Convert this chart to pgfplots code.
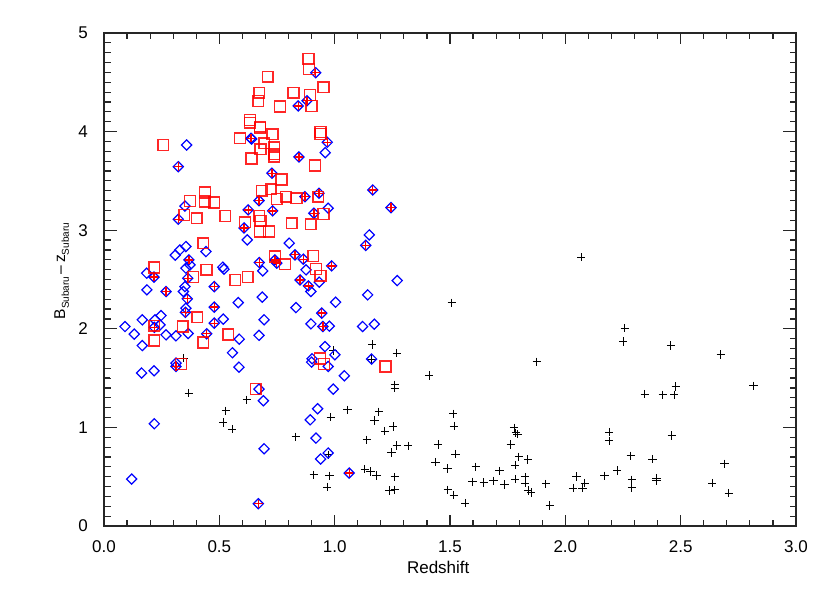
\documentclass[border=0pt]{standalone}
\usepackage{pgfplots}
\pgfplotsset{compat=1.18}
\usepackage{fontspec}
\setmainfont{Liberation Sans}
\newcommand{\sub}[1]{\raisebox{-0.45ex}{\fontsize{5}{6}\selectfont #1}}
\newdimen\tkl
\begin{document}
\fontsize{8.5}{10}\selectfont
\begin{tikzpicture}
\begin{axis}[
  at={(0,0)}, anchor=south west,
  scale only axis, width=346pt, height=246.5pt,
  xmin=0, xmax=3, ymin=0, ymax=5,
  xtick={0,0.5,1,1.5,2,2.5,3}, ytick={0,1,2,3,4,5},
  minor x tick num=4, minor y tick num=9,
  major tick length=5.5pt, minor tick length=2.8pt,
  every major tick/.append style={line width=0.6pt, black!85},
  every minor tick/.append style={line width=0.6pt, black!85},
  axis line style={line width=0.6pt, black!85},
  /pgf/number format/assume math mode=true,
  xticklabel style={/pgf/number format/fixed, /pgf/number format/fixed zerofill, /pgf/number format/precision=1, yshift=-4.5pt},
  yticklabel style={xshift=-5pt},
  xlabel={Redshift},
  ylabel={\fontsize{7.8}{9}\selectfont B\sub{Subaru}\,--\,z\sub{Subaru}},
  xlabel style={at={(axis description cs:0.483,-0.085)}, anchor=center},
  ylabel style={at={(axis description cs:-0.061,0.517)}, anchor=center},
  extra description/.code={
    \foreach \i in {1,...,29}{
      \pgfmathsetmacro\f{\i/30}
      \pgfmathparse{mod(\i,5)==0 ? 4.75 : 2.25}
      \global\tkl=\pgfmathresult pt
      \draw[line width=0.6pt, black!85] (rel axis cs:\f,0) -- ++(0pt,\tkl);
      \draw[line width=0.6pt, black!85] (rel axis cs:\f,1) -- ++(0pt,-\tkl);
    }
    \foreach \j in {1,...,49}{
      \pgfmathsetmacro\f{\j/50}
      \pgfmathparse{mod(\j,10)==0 ? 6.5 : 3.25}
      \global\tkl=\pgfmathresult pt
      \draw[line width=0.6pt, black!85] (rel axis cs:0,\f) -- ++(\tkl,0pt);
      \draw[line width=0.6pt, black!85] (rel axis cs:1,\f) -- ++(-\tkl,0pt);
    }
  },
]
% black plus
\addplot[only marks, mark=+, mark size=2.1pt, black, line width=0.5pt] coordinates {
(0.344,1.703) (0.368,1.348) (0.619,1.280) (0.528,1.169) (0.517,1.050) (0.555,0.983)
(0.832,0.905) (0.994,1.780) (1.055,1.179) (0.983,1.105) (0.972,0.723) (0.910,0.520)
(0.977,0.510) (0.968,0.395) (1.163,1.840) (1.269,1.753) (1.160,1.693) (1.410,1.526)
(1.261,1.432) (1.261,1.399) (1.876,1.665) (1.192,1.158) (1.173,1.070) (1.254,1.009)
(1.218,0.963) (1.139,0.875) (1.269,0.817) (1.319,0.814) (1.247,0.746) (1.131,0.578)
(1.156,0.553) (1.182,0.513) (1.261,0.497) (1.237,0.361) (1.261,0.368) (1.514,1.138)
(1.518,1.013) (1.448,0.827) (1.523,0.730) (1.438,0.649) (1.490,0.584) (1.491,0.368)
(1.517,0.314) (1.566,0.233) (1.612,0.601) (1.598,0.449) (1.647,0.442) (1.688,0.459)
(1.715,0.560) (1.737,0.419) (1.778,0.996) (1.786,0.946) (1.793,0.932) (1.764,0.827)
(1.799,0.702) (1.782,0.618) (1.838,0.675) (1.782,0.476) (1.826,0.497) (1.826,0.436)
(1.839,0.361) (1.852,0.341) (1.916,0.426) (1.933,0.209) (1.508,2.263) (2.069,2.726)
(2.258,2.007) (2.251,1.871) (2.458,1.830) (2.674,1.739) (2.345,1.338) (2.423,1.331)
(2.472,1.331) (2.479,1.415) (2.815,1.422) (2.190,0.953) (2.190,0.865) (2.462,0.918)
(2.284,0.712) (2.378,0.679) (2.690,0.631) (2.049,0.503) (2.034,0.385) (2.075,0.385)
(2.084,0.436) (2.169,0.510) (2.225,0.563) (2.289,0.469) (2.289,0.391) (2.396,0.486)
(2.396,0.462) (2.637,0.436) (2.709,0.334)
};
% blue diamonds
\addplot[only marks, mark=square, mark options={rotate=45}, mark size=1.8pt, blue, line width=0.6pt] coordinates {
(0.351,3.245) (0.322,3.111) (0.625,3.206) (0.607,3.023) (0.621,2.902) (0.672,3.300)
(0.355,2.834) (0.329,2.800) (0.309,2.747) (0.442,2.783) (0.368,2.699) (0.355,2.615)
(0.373,2.648) (0.363,2.513) (0.185,2.564) (0.217,2.524) (0.515,2.625) (0.520,2.605)
(0.186,2.395) (0.269,2.378) (0.351,2.428) (0.344,2.378) (0.478,2.428) (0.361,2.304)
(0.582,2.266) (0.355,2.209) (0.353,2.167) (0.478,2.220) (0.247,2.134) (0.166,2.091)
(0.221,2.091) (0.218,2.015) (0.243,2.040) (0.091,2.023) (0.131,1.946) (0.269,1.939)
(0.312,1.929) (0.365,1.952) (0.478,2.057) (0.517,2.098) (0.445,1.949) (0.166,1.830)
(0.586,1.895) (0.557,1.757) (0.672,1.934) (0.163,1.551) (0.217,1.574) (0.312,1.652)
(0.312,1.618) (0.585,1.611) (0.218,1.037) (0.120,0.476) (0.672,1.388) (0.691,1.270)
(0.694,0.783) (0.669,0.226) (0.900,1.662) (0.958,1.820) (1.001,1.736) (0.972,1.618)
(1.042,1.523) (0.994,1.388) (0.926,1.189) (0.894,1.077) (0.919,0.892) (0.972,0.740)
(0.939,0.679) (1.063,0.537) (0.731,3.196) (0.871,3.340) (0.932,3.375) (0.972,3.223)
(0.910,3.172) (1.165,3.408) (1.244,3.229) (0.803,2.868) (1.150,2.952) (1.135,2.846)
(0.673,2.672) (0.688,2.587) (0.741,2.699) (0.749,2.666) (0.828,2.750) (0.864,2.706)
(0.876,2.598) (0.987,2.638) (0.850,2.496) (0.886,2.435) (0.897,2.378) (0.933,2.473)
(0.686,2.321) (0.832,2.215) (1.004,2.270) (1.271,2.489) (1.143,2.344) (0.694,2.091)
(0.897,2.050) (0.944,2.159) (0.949,2.023) (0.977,2.027) (1.121,2.023) (1.172,2.047)
(1.160,1.693) (0.902,1.696) (0.918,4.597) (0.842,4.260) (0.880,4.313) (0.637,3.932)
(0.640,3.925) (0.968,3.892) (0.959,3.786) (0.845,3.743) (0.728,3.578) (0.358,3.864)
(0.322,3.644)
};
% red squares
\addplot[only marks, mark=square, mark size=2.7pt, red, draw opacity=0.85, line width=0.75pt] coordinates {
(0.257,3.864) (0.373,3.297) (0.438,3.383) (0.438,3.292) (0.478,3.282) (0.348,3.155)
(0.402,3.122) (0.526,3.145) (0.611,3.081) (0.673,3.145) (0.679,3.094) (0.676,2.986)
(0.715,2.986) (0.814,3.071) (0.896,3.061) (0.684,3.401) (0.723,3.415) (0.770,3.515)
(0.749,3.317) (0.789,3.340) (0.835,3.324) (0.929,3.340) (0.951,3.165) (0.430,2.868)
(0.218,2.621) (0.445,2.598) (0.387,2.524) (0.569,2.496) (0.623,2.524) (0.741,2.732)
(0.907,2.739) (0.785,2.655) (0.919,2.605) (0.939,2.537) (0.404,2.118) (0.341,2.023)
(0.218,2.030) (0.218,1.881) (0.430,1.861) (0.539,1.942) (0.334,1.642) (0.658,1.388)
(0.936,1.700) (0.954,1.642) (1.221,1.618)
(0.886,4.736) (0.889,4.634) (0.710,4.557) (0.951,4.449) (0.673,4.394) (0.821,4.394)
(0.893,4.371) (0.669,4.310) (0.763,4.253) (0.900,4.260) (0.633,4.118) (0.633,4.090)
(0.676,4.050) (0.676,4.035) (0.938,3.976) (0.938,3.995) (0.731,3.973) (0.590,3.932)
(0.695,3.882) (0.679,3.821) (0.738,3.841) (0.738,3.746) (0.738,3.770) (0.640,3.728)
(0.915,3.655)
};
% red plus
\addplot[only marks, mark=+, mark size=2.1pt, red, line width=0.65pt] coordinates {
(0.322,3.111) (0.625,3.206) (0.607,3.023) (0.672,3.300) (0.368,2.699) (0.363,2.513)
(0.217,2.524) (0.269,2.378) (0.478,2.428) (0.361,2.304) (0.353,2.167) (0.478,2.220)
(0.218,2.015) (0.478,2.057) (0.445,1.949) (0.312,1.618) (0.669,0.226) (1.063,0.537)
(0.731,3.196) (0.871,3.340) (0.932,3.375) (0.910,3.172) (1.165,3.408) (1.244,3.229)
(1.135,2.846) (0.673,2.672) (0.741,2.699) (0.749,2.666) (0.828,2.750) (0.864,2.706)
(0.987,2.638) (0.850,2.496) (0.886,2.435) (0.944,2.159) (0.949,2.023) (0.918,4.597)
(0.842,4.260) (0.880,4.313) (0.637,3.932) (0.968,3.892) (0.845,3.743) (0.728,3.578)
(0.322,3.644)
};
\end{axis}
\path (-52pt,-33.5pt) rectangle (363pt,263pt);
\end{tikzpicture}
\end{document}
